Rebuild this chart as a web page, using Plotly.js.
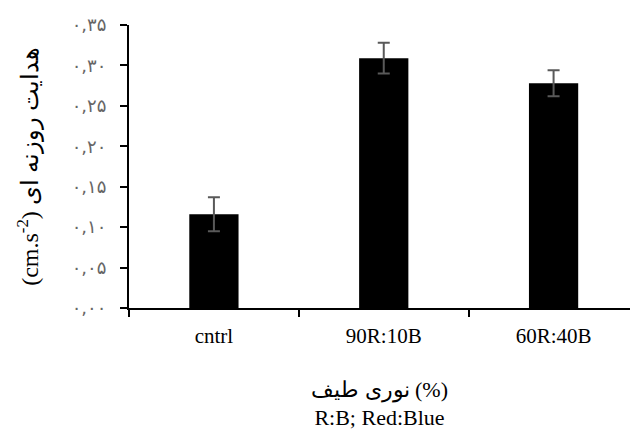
<!DOCTYPE html>
<html>
<head>
<meta charset="utf-8">
<script src="https://cdn.plot.ly/plotly-3.0.1.min.js"></script>
<style>html,body{margin:0;padding:0;background:#fff;}</style>
</head>
<body>
<div id="chart" style="width:630px;height:439px;"></div>
<script>
const categories = ["cntrl", "90R:10B", "60R:40B"];
const values = [0.116, 0.309, 0.278];
const errors = [0.021, 0.019, 0.016];
const tickVals = [0, 0.05, 0.10, 0.15, 0.20, 0.25, 0.30, 0.35];
const tickText = ["۰,۰۰", "۰,۰۵", "۰,۱۰", "۰,۱۵", "۰,۲۰", "۰,۲۵", "۰,۳۰", "۰,۳۵"];
const xTitle = "نوری طیف (%)<br>R:B; Red:Blue";
const yTitle = "(cm.s<sup>-2</sup>) هدایت روزنه ای";

const trace = {
  type: "bar",
  x: categories,
  y: values,
  width: 0.29,
  marker: {color: "#000000", line: {width: 0}},
  error_y: {type: "data", array: errors, visible: true, color: "#595959", thickness: 2, width: 6}
};

const layout = {
  width: 630, height: 439,
  margin: {l: 129, r: 0, t: 25, b: 131},
  paper_bgcolor: "#ffffff", plot_bgcolor: "#ffffff",
  showlegend: false,
  font: {family: "Liberation Serif, Times New Roman, serif", color: "#000"},
  xaxis: {
    type: "category",
    range: [-0.5, 2.45],
    showline: true, linecolor: "#000", linewidth: 2,
    ticks: "outside", tickson: "boundaries", ticklen: 7, tickwidth: 2, tickcolor: "#000",
    showgrid: false, zeroline: false,
    tickfont: {size: 21, family: "Liberation Serif, serif"},
    ticklabelstandoff: 8,
    title: {text: xTitle, font: {size: 22, family: "Liberation Serif, DejaVu Serif, serif"}, standoff: 34}
  },
  yaxis: {
    range: [0, 0.35],
    tickvals: tickVals, ticktext: tickText,
    showline: true, linecolor: "#000", linewidth: 2,
    ticks: "outside", ticklen: 7, tickwidth: 2, tickcolor: "#000",
    showgrid: false, zeroline: false,
    tickfont: {size: 18, color: "#666", family: "DejaVu Sans, serif"},
    ticklabelstandoff: 10,
    title: {text: yTitle, font: {size: 24, family: "Liberation Serif, DejaVu Serif, serif"}, standoff: 26}
  }
};

Plotly.newPlot("chart", [trace], layout, {displayModeBar: false, staticPlot: true});
</script>
</body>
</html>
